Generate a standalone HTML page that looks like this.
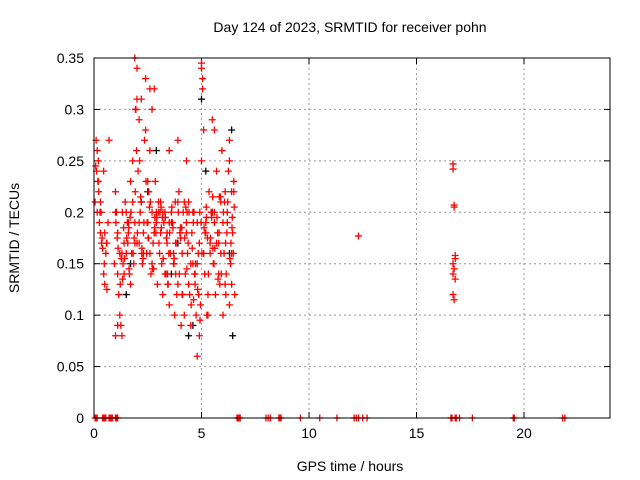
<!DOCTYPE html>
<html><head><meta charset="utf-8"><style>
body{margin:0;background:#fff}
svg{display:block;font-family:"Liberation Sans",sans-serif}
</style></head><body>
<svg id="chart" width="640" height="480">
<text x="350" y="32" font-size="14" text-anchor="middle">Day 124 of 2023, SRMTID for receiver pohn</text>
<text x="350" y="471" font-size="14" text-anchor="middle">GPS time / hours</text>
<text transform="translate(19,238) rotate(-90)" font-size="14" text-anchor="middle">SRMTID / TECUs</text>
<g id="grid"></g><g id="ticks"></g><g id="marks"></g>
<rect x="94" y="58" width="516" height="360" fill="none" stroke="#000"/>
</svg>
<script>
const xTicks=[0,5,10,15,20];
const yTicks=[0,0.05,0.1,0.15,0.2,0.25,0.3,0.35];
const yTickLabels=["0","0.05","0.1","0.15","0.2","0.25","0.3","0.35"];
const redTimes=[0.1,0.12,0.15,0.2,0.22,0.25,0.3,0.35,0.4,0.45,0.5,0.55,0.6,0.65,0.7,0.95,1.0,1.05,1.1,1.15,1.2,1.25,1.3,1.35,1.4,1.45,1.5,1.55,1.6,1.65,1.7,1.75,1.8,1.85,1.9,1.95,2.0,2.05,2.1,2.15,2.2,2.25,2.3,2.35,2.4,2.45,2.5,2.55,2.6,2.65,2.7,2.75,2.8,2.85,2.9,2.95,3.0,3.05,3.1,3.15,3.2,3.25,3.3,3.35,3.4,3.45,3.5,3.55,3.6,3.65,3.7,3.75,3.8,3.85,3.9,3.95,4.0,4.05,4.1,4.15,4.2,4.25,4.3,4.35,4.4,4.45,4.5,4.55,4.6,4.65,4.7,4.75,4.8,4.85,4.9,4.95,5.0,5.05,5.1,5.15,5.2,5.25,5.3,5.35,5.4,5.45,5.5,5.55,5.6,5.65,5.7,5.75,5.8,5.85,5.9,5.95,6.0,6.05,6.1,6.15,6.2,6.25,6.3,6.35,6.4,6.45,6.5,6.55,
0.15,0.3,0.45,0.6,1.0,1.2,1.4,1.6,1.8,2.0,2.2,2.4,2.6,2.8,3.0,3.2,3.4,3.6,3.8,4.0,4.2,4.4,4.6,4.8,5.0,5.2,5.4,5.6,5.8,6.0,6.2,6.4,
0.2,0.5,1.1,1.3,1.5,1.7,1.9,2.1,2.3,2.5,2.7,2.9,3.1,3.3,3.5,3.7,3.9,4.1,4.3,4.5,4.7,4.9,5.1,5.3,5.5,5.7,5.9,6.1,6.3,6.5,
1.9,2.0,2.1,2.2,2.6,2.7,2.8,5.0,5.05,5.6,6.3,6.4,4.8,4.3,3.9,3.5,1.0,1.1,
0.05,0.18,0.28,0.38,0.48,0.58,1.02,1.12,1.22,1.32,1.42,1.52,1.62,1.72,1.82,1.92,2.02,2.12,2.22,2.32,2.42,2.52,2.62,2.72,2.82,2.92,3.02,3.12,3.22,3.32,3.42,3.52,3.62,3.72,3.82,3.92,4.02,4.12,4.22,4.32,4.42,4.52,4.62,4.72,4.82,4.92,5.02,5.12,5.22,5.32,5.42,5.52,5.62,5.72,5.82,5.92,6.02,6.12,6.22,6.32,6.42,6.52,
0.08,0.33,1.08,1.38,1.68,1.98,2.28,2.58,2.88,3.18,3.48,3.78,4.08,4.38,4.68,4.98,5.28,5.58,5.88,6.18,6.48,
1.27,1.57,1.87,2.17,2.47,2.77,3.07,3.37,3.67,3.97,4.27,4.57,4.87,5.17,5.47,5.77,6.07,6.37,
1.33,1.63,1.93,2.23,2.53,2.83,3.13,3.43,3.73,4.03,4.33,4.63,4.93,5.23,5.53,5.83,6.13,6.43,
12.3,16.7,16.7,16.75,16.75,16.8,16.8,16.7,16.75,16.7,16.8,16.7,16.75];
const redValues=[0.27,0.24,0.2,0.25,0.22,0.19,0.18,0.17,0.165,0.14,0.13,0.16,0.125,0.19,0.27,0.15,0.22,0.2,0.18,0.12,0.1,0.09,0.08,0.15,0.17,0.21,0.16,0.19,0.18,0.14,0.23,0.16,0.21,0.15,0.19,0.3,0.31,0.24,0.17,0.2,0.21,0.15,0.18,0.27,0.33,0.16,0.19,0.22,0.26,0.14,0.2,0.17,0.18,0.23,0.19,0.13,0.2,0.16,0.21,0.15,0.12,0.19,0.2,0.14,0.18,0.13,0.11,0.16,0.2,0.19,0.15,0.1,0.17,0.12,0.13,0.22,0.18,0.09,0.16,0.2,0.1,0.14,0.19,0.16,0.21,0.12,0.09,0.18,0.15,0.2,0.13,0.1,0.19,0.16,0.17,0.11,0.34,0.32,0.28,0.14,0.19,0.1,0.12,0.22,0.16,0.2,0.29,0.15,0.19,0.12,0.24,0.18,0.17,0.13,0.21,0.26,0.1,0.16,0.22,0.14,0.19,0.24,0.25,0.15,0.13,0.18,0.23,0.12,
0.26,0.21,0.24,0.17,0.2,0.16,0.14,0.19,0.25,0.17,0.21,0.28,0.16,0.18,0.21,0.2,0.17,0.19,0.14,0.18,0.21,0.13,0.2,0.15,0.25,0.18,0.17,0.2,0.14,0.19,0.2,0.16,
0.23,0.18,0.14,0.16,0.2,0.13,0.17,0.19,0.16,0.23,0.15,0.2,0.18,0.14,0.19,0.16,0.21,0.12,0.18,0.15,0.14,0.08,0.16,0.1,0.2,0.17,0.16,0.13,0.11,0.22,
0.35,0.34,0.29,0.31,0.32,0.3,0.32,0.345,0.33,0.28,0.27,0.22,0.06,0.25,0.27,0.26,0.08,0.09,
0.21,0.23,0.2,0.175,0.15,0.17,0.19,0.165,0.13,0.2,0.155,0.175,0.185,0.2,0.16,0.22,0.18,0.25,0.16,0.19,0.23,0.175,0.21,0.145,0.185,0.195,0.17,0.205,0.155,0.195,0.14,0.18,0.205,0.15,0.17,0.2,0.185,0.12,0.175,0.145,0.2,0.11,0.19,0.15,0.125,0.2,0.16,0.185,0.205,0.14,0.175,0.215,0.165,0.195,0.18,0.14,0.2,0.17,0.21,0.155,0.185,0.205,
0.245,0.2,0.175,0.185,0.195,0.26,0.155,0.205,0.18,0.195,0.16,0.21,0.185,0.17,0.14,0.19,0.175,0.15,0.215,0.18,0.16,
0.155,0.17,0.175,0.215,0.19,0.145,0.2,0.175,0.185,0.14,0.205,0.165,0.12,0.18,0.195,0.135,0.21,0.17,
0.135,0.145,0.3,0.165,0.175,0.195,0.185,0.13,0.155,0.175,0.2,0.115,0.095,0.195,0.165,0.215,0.12,0.195,
0.177,0.247,0.242,0.207,0.205,0.158,0.155,0.15,0.145,0.14,0.135,0.12,0.115];
const zeroTimes=[0.05,0.1,0.15,0.4,0.45,0.5,0.55,0.7,0.75,0.8,0.85,1.0,1.05,1.1,6.65,6.7,6.75,6.8,8.0,8.1,8.2,8.6,8.65,8.7,9.6,10.5,11.3,12.1,12.2,12.3,12.5,12.7,16.6,16.65,16.8,16.85,17.0,17.6,19.5,19.55,21.8,21.9];
const blackTimes=[1.5,2.2,2.9,3.6,4.4,5.0,5.5,6.4,6.45,1.7,3.9,4.6,5.2,6.3,2.5];
const blackValues=[0.12,0.21,0.26,0.14,0.08,0.31,0.2,0.28,0.08,0.15,0.17,0.09,0.24,0.16,0.22];
const NS="http://www.w3.org/2000/svg";
const X=v=>94+v*516/24, Y=v=>418-v*360/0.35;
const grid=document.getElementById('grid'),ticks=document.getElementById('ticks'),marks=document.getElementById('marks');
function mk(t,a,p){const e=document.createElementNS(NS,t);for(const k in a)e.setAttribute(k,a[k]);p.appendChild(e);return e;}
xTicks.forEach(v=>{
 if(v>0){const g=mk('line',{x1:X(v),x2:X(v),y1:58,y2:418,stroke:'#999','stroke-dasharray':'2,3'},grid);
 
 }
 const t=mk('text',{x:X(v),y:438,'font-size':14,'text-anchor':'middle'},ticks);t.textContent=v;
 
 
 mk('line',{x1:X(v),x2:X(v),y1:418,y2:412,stroke:'#000'},ticks);mk('line',{x1:X(v),x2:X(v),y1:58,y2:64,stroke:'#000'},ticks);
});
yTicks.forEach((v,i)=>{
 if(v>0&&v<0.35){const g=mk('line',{x1:94,x2:610,y1:Y(v),y2:Y(v),stroke:'#999','stroke-dasharray':'2,3'},grid);
 
 }
 const t=mk('text',{x:84,y:Y(v)+5,'font-size':14,'text-anchor':'end'},ticks);t.textContent=yTickLabels[i];
 
 
 mk('line',{x1:94,x2:100,y1:Y(v),y2:Y(v),stroke:'#000'},ticks);mk('line',{x1:610,x2:604,y1:Y(v),y2:Y(v),stroke:'#000'},ticks);
});
function plus(x,y,c,name){const p=mk('path',{d:`M${x-3.5},${y}h7M${x},${y-3.5}v7`,stroke:c,'stroke-width':1.3,fill:'none'},marks);
 
 }
blackTimes.forEach((t,i)=>plus(X(t),Y(blackValues[i]),'#000','black-point'));
redTimes.forEach((t,i)=>plus(X(t),Y(redValues[i]),'#f00','red-point'));
zeroTimes.forEach(t=>plus(X(t),Y(0),'#f00','zero-point'));
</script>
</body></html>
